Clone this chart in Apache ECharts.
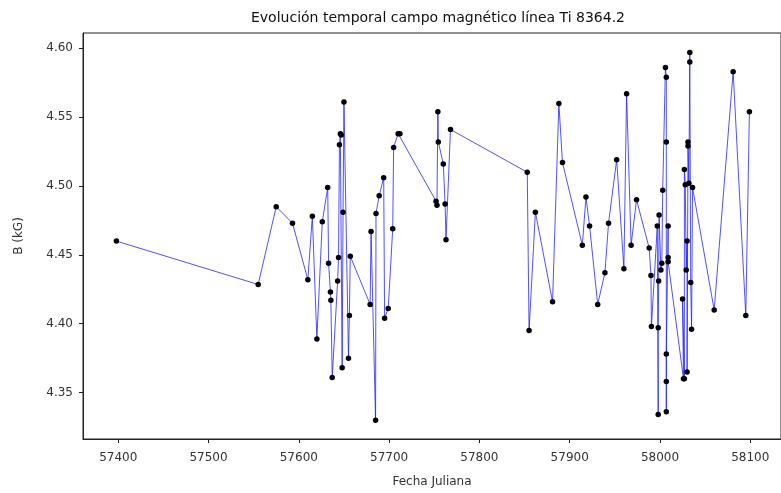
<!DOCTYPE html>
<html>
<head>
<meta charset="utf-8">
<script src="https://cdn.jsdelivr.net/npm/echarts@6/dist/echarts.min.js"></script>
<style>
html,body{margin:0;padding:0;background:#fff;}
#chart{width:781px;height:493px;}
</style>
</head>
<body>
<div id="chart"></div>
<script>
const titleText = "Evolución temporal campo magnético línea Ti 8364.2";
const xLabel = "Fecha Juliana";
const yLabel = "B (kG)";
const xTicks = [57400, 57500, 57600, 57700, 57800, 57900, 58000, 58100];
const yTicks = [4.35, 4.40, 4.45, 4.50, 4.55, 4.60];

const julianDates = [
  57398, 57555, 57575, 57593, 57610, 57615, 57620, 57626, 57632, 57633,
  57635, 57635.5, 57637, 57643, 57644, 57645, 57646, 57647, 57648, 57649,
  57650, 57655, 57656, 57657, 57679, 57680, 57685, 57685.5, 57689, 57694,
  57695, 57699, 57704, 57705, 57710, 57712, 57752, 57753, 57754, 57754.5,
  57760, 57762, 57763, 57768, 57853, 57855, 57862, 57881, 57888, 57892,
  57914, 57918, 57922, 57931, 57939, 57943, 57952, 57960, 57963, 57968,
  57974, 57988, 57990, 57990.5, 57997, 57998, 57998, 57998.5, 57999, 58001,
  58002, 58003, 58006, 58007, 58007, 58007, 58007, 58007, 58009, 58009,
  58009, 58026, 58025, 58027, 58027, 58028, 58029, 58030, 58030, 58031,
  58031, 58032, 58033, 58033, 58034, 58035, 58036, 58060, 58081, 58095,
  58099
];
const fieldKG = [
  4.460, 4.4285, 4.485, 4.473, 4.432, 4.478, 4.389, 4.474, 4.499, 4.444,
  4.423, 4.417, 4.361, 4.431, 4.448, 4.530, 4.538, 4.537, 4.368, 4.481,
  4.561, 4.375, 4.406, 4.449, 4.414, 4.467, 4.330, 4.480, 4.493, 4.506,
  4.404, 4.411, 4.469, 4.528, 4.538, 4.538, 4.489, 4.486, 4.554, 4.532,
  4.516, 4.487, 4.461, 4.541, 4.510, 4.395, 4.481, 4.416, 4.560, 4.517,
  4.457, 4.492, 4.471, 4.414, 4.437, 4.473, 4.519, 4.440, 4.567, 4.457,
  4.490, 4.455, 4.435, 4.398, 4.471, 4.334, 4.397, 4.431, 4.479, 4.439,
  4.444, 4.497, 4.586, 4.579, 4.532, 4.336, 4.358, 4.378, 4.471, 4.448,
  4.445, 4.360, 4.418, 4.360, 4.512, 4.501, 4.439, 4.460, 4.365, 4.532,
  4.529, 4.502, 4.597, 4.590, 4.430, 4.396, 4.499, 4.410, 4.583, 4.406,
  4.554
];

const points = julianDates.map((d, i) => [d, fieldKG[i]]);
const font = "DejaVu Sans";

const chart = echarts.init(document.getElementById('chart'), null, {renderer: 'canvas'});
chart.setOption({
  animation: false,
  backgroundColor: '#ffffff',
  title: {
    text: titleText,
    left: 433, top: 6, textAlign: 'center',
    textStyle: {fontFamily: font, fontSize: 14, fontWeight: 'normal', color: '#111'}
  },
  grid: {
    left: 83, top: 33, width: 702, height: 407,
    show: true, borderColor: '#222', borderWidth: 1, backgroundColor: 'transparent'
  },
  xAxis: {
    type: 'value', min: 57361, max: 58134,
    name: xLabel, nameLocation: 'middle', nameGap: 37,
    nameTextStyle: {fontFamily: font, fontSize: 12, color: '#333'},
    axisLine: {show: true, lineStyle: {color: '#222', width: 1}},
    axisTick: {show: true, inside: false, length: 4, customValues: xTicks, lineStyle: {color: '#222'}},
    axisLabel: {customValues: xTicks, fontFamily: font, fontSize: 12, color: '#333', margin: 13,
      formatter: v => String(v)},
    splitLine: {show: false}
  },
  yAxis: {
    type: 'value', min: 4.3163, max: 4.6111,
    name: yLabel, nameLocation: 'middle', nameGap: 58, nameRotate: 90,
    nameTextStyle: {fontFamily: font, fontSize: 12, color: '#333'},
    axisLine: {show: true, lineStyle: {color: '#222', width: 1}},
    axisTick: {show: true, inside: false, length: 4, customValues: yTicks, lineStyle: {color: '#222'}},
    axisLabel: {customValues: yTicks, fontFamily: font, fontSize: 12, color: '#333', margin: 10,
      formatter: v => v.toFixed(2)},
    splitLine: {show: false}
  },
  series: [{
    type: 'line',
    data: points,
    showSymbol: true,
    symbol: 'circle',
    symbolSize: 5.5,
    itemStyle: {color: '#000000', borderWidth: 0},
    lineStyle: {color: '#1a1aff', width: 0.9, opacity: 0.85},
    clip: false,
    z: 3
  }]
});
</script>
</body>
</html>
